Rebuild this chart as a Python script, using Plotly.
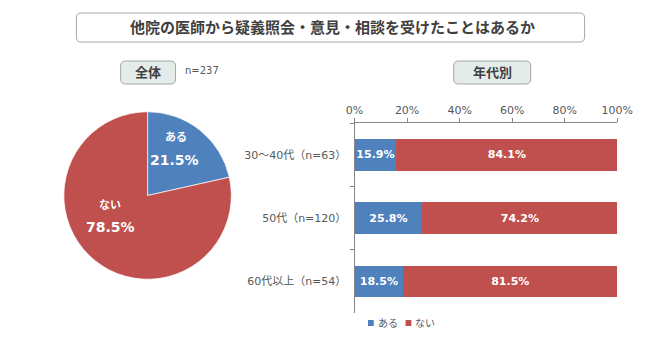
import plotly.graph_objects as go

# ---- data ----
title_text = "他院の医師から疑義照会・意見・相談を受けたことはあるか"
answer_labels = ["ある", "ない"]
overall_pct = [21.5, 78.5]
overall_n = 237
age_groups = ["30～40代（n=63）", "50代（n=120）", "60代以上（n=54）"]
age_yes = [15.9, 25.8, 18.5]
age_no = [84.1, 74.2, 81.5]
x_ticks = [0, 20, 40, 60, 80, 100]

BLUE = "#4F81BD"
RED = "#C0504D"
GRAY_TXT = "#595959"
FONT = "DejaVu Sans, Noto Sans CJK JP, sans-serif"

W, H = 667, 338


def px(x):
    return x / W


def py(y):
    return 1 - y / H


def rounded_rect(x0, y0, x1, y1, r):
    """Rounded rectangle path in paper coordinates from pixel corners."""
    rx, ry = r / W, r / H
    X0, X1 = px(x0), px(x1)
    Y0, Y1 = py(y0), py(y1)  # Y0 top, Y1 bottom
    return (f"M{X0+rx},{Y0} L{X1-rx},{Y0} Q{X1},{Y0} {X1},{Y0-ry} "
            f"L{X1},{Y1+ry} Q{X1},{Y1} {X1-rx},{Y1} L{X0+rx},{Y1} "
            f"Q{X0},{Y1} {X0},{Y1+ry} L{X0},{Y0-ry} Q{X0},{Y0} {X0+rx},{Y0} Z")


def note(text, x, y, size, color, xanchor="center"):
    return dict(text=text, x=px(x), y=py(y), xref="paper", yref="paper",
                xanchor=xanchor, yanchor="middle", showarrow=False,
                font=dict(size=size, color=color, family=FONT))


fig = go.Figure()

# pie for the whole sample
fig.add_trace(go.Pie(
    labels=answer_labels, values=overall_pct, sort=False,
    direction="clockwise", rotation=0,
    marker=dict(colors=[BLUE, RED], line=dict(color="rgba(255,255,255,0.7)", width=1)),
    textinfo="none", hoverinfo="label+percent", showlegend=False,
    domain=dict(x=[px(57), px(231)], y=[py(282), py(109)]),
))

# stacked bars by age group
for name, vals, col in [(answer_labels[0], age_yes, BLUE), (answer_labels[1], age_no, RED)]:
    fig.add_trace(go.Bar(
        y=age_groups, x=vals, orientation="h", name=name,
        marker=dict(color=col, line=dict(width=0)),
        text=[f"{v:.1f}%" for v in vals], textposition="inside",
        insidetextanchor="middle", constraintext="none",
        textfont=dict(color="white", size=11, family=FONT, weight="bold"),
        xaxis="x", yaxis="y", showlegend=False,
    ))

shapes = [
    dict(type="path", xref="paper", yref="paper", path=rounded_rect(70, 13, 598, 42, 5),
         line=dict(color="#A6A6A6", width=1), fillcolor="white", layer="below"),
    dict(type="path", xref="paper", yref="paper", path=rounded_rect(116, 61, 173, 84, 5),
         line=dict(color="#A6A6A6", width=1), fillcolor="#E4ECEA", layer="below"),
    dict(type="path", xref="paper", yref="paper", path=rounded_rect(462, 61, 542, 84, 5),
         line=dict(color="#A6A6A6", width=1), fillcolor="#E4ECEA", layer="below"),
    # legend swatches
    dict(type="rect", xref="paper", yref="paper", x0=px(373), x1=px(379), y0=py(326), y1=py(320),
         fillcolor=BLUE, line=dict(width=0)),
    dict(type="rect", xref="paper", yref="paper", x0=px(412), x1=px(418), y0=py(326), y1=py(320),
         fillcolor=RED, line=dict(width=0)),
]

annotations = [
    note(f"<b>{title_text}</b>", 336, 27.5, 15, "#404040"),
    note("<b>全体</b>", 144.5, 72.5, 13, "#404040"),
    note(f"n={overall_n}", 181, 71, 10, GRAY_TXT, xanchor="left"),
    note("<b>年代別</b>", 502, 72.5, 13, "#404040"),
    # pie labels
    note(f"<b>{answer_labels[0]}</b>", 173, 137, 11, "white"),
    note(f"<b>{overall_pct[0]:.1f}%</b>", 172, 160, 14, "white"),
    note(f"<b>{answer_labels[1]}</b>", 105, 205, 11, "white"),
    note(f"<b>{overall_pct[1]:.1f}%</b>", 105, 227, 14, "white"),
    # legend text
    note(answer_labels[0], 381, 323, 10, GRAY_TXT, xanchor="left"),
    note(answer_labels[1], 420, 323, 10, GRAY_TXT, xanchor="left"),
]

fig.update_layout(
    width=W, height=H, margin=dict(l=0, r=0, t=0, b=0),
    paper_bgcolor="white", plot_bgcolor="white",
    barmode="stack", bargap=0.5,
    font=dict(family=FONT, color=GRAY_TXT, size=11),
    xaxis=dict(domain=[px(359), px(632)], range=[0, 100], side="top",
               tickmode="array", tickvals=x_ticks, ticktext=[f"{v}%" for v in x_ticks],
               ticks="outside", ticklen=4,
               tickcolor="#868686", showline=True, linecolor="#868686", linewidth=1,
               showgrid=False, zeroline=False, fixedrange=True,
               tickfont=dict(size=11, color=GRAY_TXT)),
    yaxis=dict(domain=[py(313), py(123)], autorange="reversed",
               ticks="outside", tickson="boundaries", ticklen=4, tickcolor="#868686",
               showline=True, linecolor="#868686", linewidth=1, showgrid=False,
               ticklabelstandoff=5, tickfont=dict(size=11, color=GRAY_TXT), fixedrange=True),
    shapes=shapes, annotations=annotations,
)

fig.write_html("out.html")
